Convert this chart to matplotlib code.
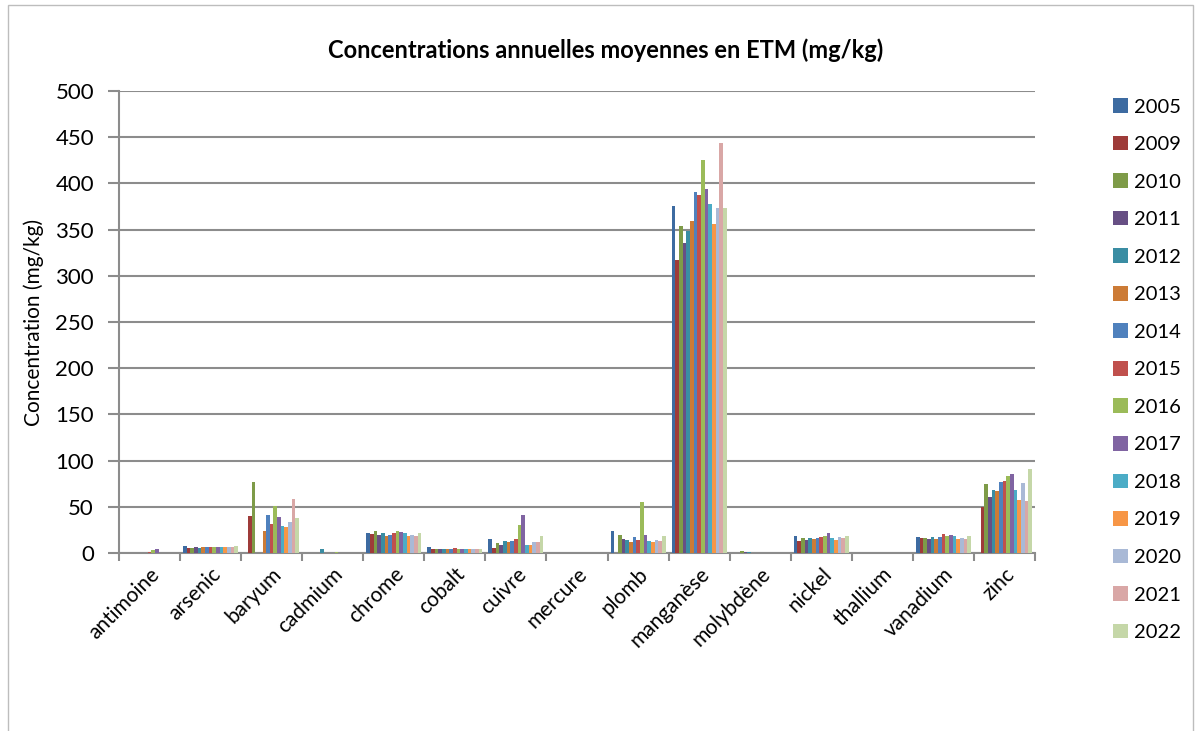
import numpy as np
import matplotlib.pyplot as plt
from matplotlib.patches import Rectangle

plt.rcParams['font.family'] = ['Lato', 'DejaVu Sans']

nan = np.nan

categories = ["antimoine", "arsenic", "baryum", "cadmium", "chrome", "cobalt",
              "cuivre", "mercure", "plomb", "manganèse", "molybdène", "nickel",
              "thallium", "vanadium", "zinc"]

years = ["2005", "2009", "2010", "2011", "2012", "2013", "2014", "2015",
         "2016", "2017", "2018", "2019", "2020", "2021", "2022"]

# une ligne par élément, une colonne par année (mg/kg)
antimoine = [nan, nan, nan, nan, nan, nan, nan, 0.8, 3.5, 4.0, nan, nan, nan, nan, nan]
arsenic = [7.5, 5.5, 5.5, 6.0, 5.5, 6.0, 6.0, 6.0, 6.0, 6.5, 6.5, 6.0, 7.0, 6.5, 7.5]
baryum = [nan, 40.5, 76.5, nan, nan, 23.5, 41.5, 31.5, 51.0, 39.5, 29.0, 28.0, 34.0, 58.0, 38.0]
cadmium = [nan, nan, nan, nan, 4.5, nan, nan, nan, 1.0, nan, nan, nan, nan, nan, nan]
chrome = [21.2, 20.1, 23.4, 19.0, 21.2, 17.9, 19.3, 21.2, 23.4, 22.3, 21.2, 18.2, 19.3, 18.6, 21.2]
cobalt = [6.0, 4.5, 4.5, 4.5, 4.5, 4.5, 4.5, 5.3, 4.5, 4.8, 4.5, 4.0, 4.8, 4.0, 4.5]
cuivre = [15.3, 5.5, 11.3, 8.8, 13.5, 12.4, 12.8, 15.3, 30.7, 40.9, 8.8, 8.4, 12.4, 12.4, 18.2]
mercure = [nan] * 15
plomb = [23.7, nan, 19.0, 15.3, 14.2, 12.0, 16.8, 13.9, 55.5, 19.0, 13.1, 12.0, 13.9, 13.1, 17.9]
manganese = [376, 317.6, 354.4, 336, 349, 359.8, 391.1, 387.9, 425.7, 394.4, 377.4, 355.8, 373.5, 443.4, 373.5]
molybdene = [nan, nan, 2.5, 1.5, 1.5, 0.3, 0.3, 0.3, 0.3, 0.3, 0.3, 0.3, nan, nan, nan]
nickel = [18.2, 13.1, 15.7, 14.6, 15.7, 15.0, 15.7, 16.8, 18.2, 21.2, 16.4, 14.6, 16.8, 16.4, 17.9]
thallium = [nan] * 15
vanadium = [16.8, 16.4, 16.4, 15.3, 16.8, 15.3, 17.5, 20.1, 18.2, 19.0, 18.6, 15.0, 16.4, 15.0, 17.9]
zinc = [nan, 50.0, 75.2, 60.2, 67.9, 67.2, 77.0, 78.1, 83.6, 85.8, 67.9, 57.7, 75.9, 56.2, 91.2]

data = np.array([antimoine, arsenic, baryum, cadmium, chrome, cobalt, cuivre,
                 mercure, plomb, manganese, molybdene, nickel, thallium,
                 vanadium, zinc], dtype=float)

# palette Excel
couleurs = ["#3D6BA1", "#9E3B39", "#7E9B48", "#674F84", "#3A8DA3", "#CC7B36",
            "#4F81BD", "#C0504D", "#9BBB59", "#8064A2", "#4BACC6", "#F79646",
            "#A9B9D6", "#D9A7A6", "#C5D7A8"]

fig = plt.figure(figsize=(12, 7.31), dpi=100)
ax = fig.add_axes([119 / 1200, 1 - 553 / 731, (1035 - 119) / 1200, (553 - 91) / 731])

n = len(years)
w = 0.9 / n
x0 = np.arange(len(categories)) + 0.05
for j, (an, col) in enumerate(zip(years, couleurs)):
    ax.bar(x0 + j * w, data[:, j], width=w, align='edge', color=col,
           label=an, zorder=3)

ax.set_xlim(0, len(categories))
ax.set_ylim(0, 500)
ax.set_yticks(np.arange(0, 501, 50))
ax.grid(axis='y', color='#8c8c8c', linewidth=1.5, zorder=0)

ax.set_xticks(np.arange(0, len(categories) + 1))
ax.set_xticklabels([])
ax.set_xticks(np.arange(len(categories)) + 0.5, minor=True)
ax.set_xticklabels(categories, minor=True, rotation=45, ha='right', va='top',
                   rotation_mode='anchor', fontsize=15)
ax.tick_params(axis='x', which='minor', length=0, pad=8)
ax.tick_params(axis='x', which='major', length=6, width=1.5, color='#8c8c8c')
ax.tick_params(axis='y', length=8, width=1.5, color='#8c8c8c', labelsize=16, pad=10)

for s in ['top', 'right']:
    ax.spines[s].set_visible(False)
for s in ['left', 'bottom']:
    ax.spines[s].set_color('#8c8c8c')
    ax.spines[s].set_linewidth(1.5)

ax.set_ylabel("Concentration (mg/kg)", fontsize=15, labelpad=8)
fig.text(606 / 1200, 1 - 50 / 731, "Concentrations annuelles moyennes en ETM (mg/kg)",
         ha='center', va='center', fontsize=17, fontweight='bold')

ax.legend(loc='upper left', bbox_to_anchor=(1095 / 1200, 1 - 80 / 731),
          bbox_transform=fig.transFigure, frameon=False, fontsize=14.5,
          handlelength=0.75, handleheight=0.75, handletextpad=0.3,
          labelspacing=1.0)

fig.patches.append(Rectangle((8 / 1200, -0.05), 1185 / 1200, 1.05 - 5 / 731,
                             transform=fig.transFigure, fill=False,
                             edgecolor='#bdbdbd', linewidth=1))

fig.savefig("out.png", dpi=100)
